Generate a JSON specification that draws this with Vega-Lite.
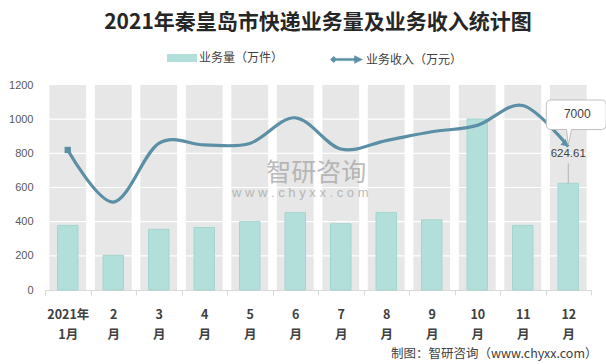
{
  "$schema": "https://vega.github.io/schema/vega-lite/v6.json",
  "autosize": {"type": "none"},
  "width": 546,
  "height": 205,
  "padding": {"left": 45, "top": 85, "right": 15, "bottom": 74},
  "background": "white",
  "title": {
    "text": "2021年秦皇岛市快递业务量及业务收入统计图",
    "anchor": "middle",
    "frame": "group",
    "font": "Noto Sans CJK SC",
    "fontSize": 21,
    "fontWeight": "bold",
    "color": "#262626",
    "offset": 10
  },
  "config": {
    "view": {"stroke": null},
    "font": "Noto Sans CJK SC",
    "axisY": {"labelOverlap": false, "labelBound": false, "labelFlush": false}
  },
  "datasets": {
    "main": [
      {"月份": "1月", "业务量": 378, "业务收入": 6830},
      {"月份": "2月", "业务量": 203, "业务收入": 4290},
      {"月份": "3月", "业务量": 355, "业务收入": 7150},
      {"月份": "4月", "业务量": 366, "业务收入": 7080},
      {"月份": "5月", "业务量": 400, "业务收入": 7150},
      {"月份": "6月", "业务量": 454, "业务收入": 8400},
      {"月份": "7月", "业务量": 388, "业务收入": 6880},
      {"月份": "8月", "业务量": 454, "业务收入": 7290},
      {"月份": "9月", "业务量": 411, "业务收入": 7720},
      {"月份": "10月", "业务量": 1001, "业务收入": 8030},
      {"月份": "11月", "业务量": 378, "业务收入": 9000},
      {"月份": "12月", "业务量": 624.61, "业务收入": 7000}
    ],
    "grid": [{"g": 200}, {"g": 400}, {"g": 600}, {"g": 800}, {"g": 1000}]
  },
  "layer": [
    {
      "layer": [
        {
          "data": {"name": "main"},
          "mark": {"type": "bar", "color": "#e7e7e7", "width": {"band": 0.81}},
          "encoding": {
            "x": {
              "field": "月份",
              "type": "nominal",
              "sort": null,
              "scale": {"paddingInner": 0, "paddingOuter": 0},
              "axis": {
                "labelAngle": 0,
                "labelExpr": "datum.value == null ? '' : (datum.value == '1月' ? ['2021年', '1月'] : [replace(datum.value, '月', ''), '月'])",
                "labelFont": "Noto Sans CJK SC",
                "labelFontSize": 12.5,
                "labelFontWeight": "bold",
                "labelColor": "#404040",
                "labelLineHeight": 20,
                "labelPadding": 13,
                "labelOverlap": false,
                "domainColor": "#d9d9d9",
                "tickColor": "#d9d9d9",
                "tickSize": 5,
                "tickBand": "extent",
                "grid": false,
                "title": "制图：智研咨询（www.chyxx.com）",
                "titleFont": "Noto Sans CJK SC",
                "titleFontSize": 12.5,
                "titleFontWeight": "normal",
                "titleColor": "#404040",
                "titleAnchor": "end",
                "titleAlign": "right",
                "titleBaseline": "middle",
                "titleX": 552,
                "titleY": 63
              }
            },
            "y": {
              "datum": 1200,
              "type": "quantitative",
              "scale": {"domain": [0, 1200]},
              "axis": {
                "values": [0, 200, 400, 600, 800, 1000, 1200],
                "tickCount": 7,
                "format": "d",
                "grid": false,
                "domain": false,
                "ticks": false,
                "labelOverlap": false,
                "labelPadding": 12,
                "labelFont": "Liberation Sans",
                "labelFontSize": 11,
                "labelColor": "#595959",
                "title": null
              }
            },
            "y2": {"datum": 0}
          }
        },
        {
          "data": {"name": "grid"},
          "mark": {"type": "rule", "color": "white", "strokeWidth": 1.2},
          "encoding": {"y": {"field": "g", "type": "quantitative"}}
        },
        {
          "data": {"name": "main"},
          "transform": [{"filter": "datum['月份'] == '6月'"}],
          "mark": {"type": "text", "text": "智研咨询", "fontSize": 25, "color": "#a5a5a5", "opacity": 0.75, "dx": 21, "baseline": "middle"},
          "encoding": {
            "x": {"field": "月份", "type": "nominal", "sort": null},
            "y": {"datum": 684, "type": "quantitative"}
          }
        },
        {
          "data": {"name": "main"},
          "transform": [{"filter": "datum['月份'] == '6月'"}],
          "mark": {"type": "text", "text": "w w w . c h y x x . c o m", "font": "Liberation Sans", "fontSize": 13, "color": "#a5a5a5", "opacity": 0.75, "dx": 5, "baseline": "middle"},
          "encoding": {
            "x": {"field": "月份", "type": "nominal", "sort": null},
            "y": {"datum": 567, "type": "quantitative"}
          }
        },
        {
          "data": {"name": "main"},
          "mark": {"type": "bar", "width": {"band": 0.45}, "stroke": "#a3d5cf", "strokeWidth": 1},
          "encoding": {
            "x": {"field": "月份", "type": "nominal", "sort": null},
            "y": {
              "field": "业务量",
              "type": "quantitative",
              "axis": {
                "values": [0, 200, 400, 600, 800, 1000, 1200],
                "tickCount": 7,
                "format": "d",
                "grid": false,
                "domain": false,
                "ticks": false,
                "labelOverlap": false,
                "labelPadding": 12,
                "labelFont": "Liberation Sans",
                "labelFontSize": 11,
                "labelColor": "#595959",
                "title": null
              }
            },
            "fill": {
              "datum": "业务量（万件）",
              "scale": {"domain": ["业务量（万件）"], "range": ["#b3dfdb"]},
              "legend": {
                "orient": "none",
                "legendX": 122,
                "legendY": -42,
                "title": null,
                "symbolType": "M-1,-0.27H1V0.27H-1Z",
                "symbolSize": 900,
                "symbolStrokeWidth": 0,
                "symbolOpacity": 1,
                "labelFont": "Noto Sans CJK SC",
                "labelFontSize": 12,
                "labelColor": "#404040",
                "labelOffset": 2
              }
            }
          }
        },
        {
          "data": {"name": "main"},
          "transform": [{"filter": "datum['月份'] == '12月'"}],
          "mark": {"type": "rule", "color": "#a6a6a6", "strokeWidth": 0.8, "y2Offset": -20},
          "encoding": {
            "x": {"field": "月份", "type": "nominal", "sort": null},
            "y": {"field": "业务量", "type": "quantitative"},
            "y2": {"field": "业务量"}
          }
        },
        {
          "data": {"name": "main"},
          "transform": [{"filter": "datum['月份'] == '12月'"}],
          "mark": {"type": "text", "font": "Liberation Sans", "fontSize": 11.5, "color": "#404040", "dy": -29, "baseline": "middle"},
          "encoding": {
            "x": {"field": "月份", "type": "nominal", "sort": null},
            "y": {"field": "业务量", "type": "quantitative"},
            "text": {"field": "业务量", "type": "quantitative"}
          }
        }
      ]
    },
    {
      "data": {"name": "main"},
      "encoding": {
        "x": {"field": "月份", "type": "nominal", "sort": null}
      },
      "layer": [
        {
          "mark": {"type": "line", "interpolate": "cardinal", "strokeWidth": 3.2},
          "encoding": {
            "y": {"field": "业务收入", "type": "quantitative", "scale": {"domain": [0, 10000]}, "axis": null},
            "stroke": {
              "datum": "业务收入（万元）",
              "scale": {"domain": ["业务收入（万元）"], "range": ["#5b8fa6"]},
              "legend": {
                "orient": "none",
                "legendX": 285,
                "legendY": -42,
                "title": null,
                "symbolType": "M-1,0L-0.8,-0.2L-0.6,0L-0.8,0.2Z M-0.62,-0.07H0.62V0.07H-0.62Z M0.5,-0.24L1,0L0.5,0.24Z",
                "symbolSize": 1024,
                "symbolFillColor": "#5b8fa6",
                "symbolStrokeColor": "#5b8fa6",
                "symbolStrokeWidth": 0.5,
                "symbolOpacity": 1,
                "labelFont": "Noto Sans CJK SC",
                "labelFontSize": 12,
                "labelColor": "#404040",
                "labelOffset": 3
              }
            }
          }
        },
        {
          "transform": [{"filter": "datum['月份'] == '1月'"}],
          "mark": {"type": "point", "shape": "square", "size": 40, "filled": true, "opacity": 1, "color": "#5b8fa6"},
          "encoding": {
            "y": {"field": "业务收入", "type": "quantitative"}
          }
        },
        {
          "transform": [{"filter": "datum['月份'] == '12月'"}],
          "mark": {"type": "point", "shape": "M0,0L-1,-0.55L-1,0.55Z", "size": 196, "angle": 42, "filled": true, "opacity": 1, "color": "#5b8fa6"},
          "encoding": {
            "y": {"field": "业务收入", "type": "quantitative"}
          }
        },
        {
          "transform": [{"filter": "datum['月份'] == '12月'"}],
          "mark": {"type": "point", "shape": "M-0.34,-0.9H0.66Q0.76,-0.9 0.76,-0.8V-0.41Q0.76,-0.31 0.66,-0.31H0.066L0,0L-0.034,-0.31H-0.34Q-0.44,-0.31 -0.44,-0.41V-0.8Q-0.44,-0.9 -0.34,-0.9Z", "size": 10000, "filled": true, "fill": "white", "stroke": "#bfbfbf", "strokeWidth": 1, "opacity": 1, "yOffset": -1.5},
          "encoding": {
            "y": {"field": "业务收入", "type": "quantitative"}
          }
        },
        {
          "transform": [{"filter": "datum['月份'] == '12月'"}],
          "mark": {"type": "text", "font": "Liberation Sans", "fontSize": 12, "color": "#404040", "dx": 9, "dy": -33, "baseline": "middle"},
          "encoding": {
            "y": {"field": "业务收入", "type": "quantitative"},
            "text": {"field": "业务收入", "type": "quantitative"}
          }
        }
      ]
    }
  ],
  "resolve": {"scale": {"y": "independent"}}
}
